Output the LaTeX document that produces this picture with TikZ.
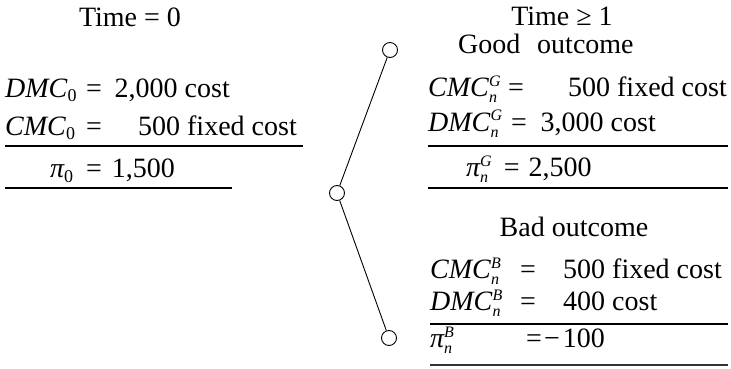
\documentclass[tikz,border=0pt]{standalone}
\usepackage{fontspec}
\setmainfont{Liberation Serif}
\newcommand{\lowsub}[1]{\raisebox{-5pt}{\fontsize{18}{18}\selectfont #1}}
\newcommand{\mysubsup}[2]{{\fontsize{16}{16}\selectfont\itshape
 \setbox0=\hbox{\raisebox{-6pt}{#1}}\setbox2=\hbox{\raisebox{10pt}{#2}}%
 \ifdim\wd0>\wd2 \rlap{\box2}\box0\else\rlap{\box0}\box2\fi}}
\newcommand{\vpi}{{\itshape π}}
\begin{document}
\begin{tikzpicture}[x=1pt,y=-1pt,
  txt/.style={inner sep=0pt,font=\fontsize{28}{34}\selectfont},
  rule/.style={line width=1.1pt},
  leaf/.style={circle,draw,line width=0.9pt,minimum size=15pt,inner sep=0pt},
  branch/.style={line width=0.9pt}]
\useasboundingbox (0,0) rectangle (731,369);
% left block
\node[txt,anchor=base] (t0) at (130,27) {Time = 0};
\node[txt,anchor=base west] (d0) at (5,97) {\textit{DMC}\lowsub{0}};
\node[txt,anchor=base west] (d0e) at (86,97) {=};
\node[txt,anchor=base east] (d0v) at (230,97) {2,000 cost};
\node[txt,anchor=base west] (c0) at (5,135) {\textit{CMC}\lowsub{0}};
\node[txt,anchor=base west] (c0e) at (86,135) {=};
\node[txt,anchor=base east] (c0v) at (297,135) {500 fixed cost};
\draw[rule] (5,146) -- (303,146);
\node[txt,anchor=base west] (p0) at (50,177) {\vpi\lowsub{0}};
\node[txt,anchor=base west] (p0e) at (86,177) {=};
\node[txt,anchor=base east] (p0v) at (175,177) {1,500};
\draw[rule] (5,188) -- (232,188);
% tree
\node[leaf] (top) at (390,50) {};
\node[leaf] (mid) at (337,193) {};
\node[leaf] (bot) at (389,338) {};
\draw[branch] (mid) -- (top);
\draw[branch] (mid) -- (bot);
% right block
\node[txt,anchor=base] (t1) at (562,26) {Time ≥ 1};
\node[txt,anchor=base west] (good) at (458,54) {Good\hspace{0.35em} outcome};
\node[txt,anchor=base west] (cg) at (428,96) {\textit{CMC}\mysubsup{n}{G}};
\node[txt,anchor=base west] (cge) at (508,96) {=};
\node[txt,anchor=base east] (cgv) at (727,96) {500 fixed cost};
\node[txt,anchor=base west] (dg) at (428,131) {\textit{DMC}\mysubsup{n}{G}};
\node[txt,anchor=base west] (dge) at (511,131) {=};
\node[txt,anchor=base east] (dgv) at (656,131) {3,000 cost};
\draw[rule] (428,146) -- (728,146);
\node[txt,anchor=base west] (pg) at (466,176) {\vpi\mysubsup{n}{G}\hspace{5pt} = \hspace{2pt}2,500};
\draw[rule] (428,188) -- (728,188);
\node[txt,anchor=base] (bad) at (574,236) {Bad outcome};
\node[txt,anchor=base west] (cb) at (430,278) {\textit{CMC}\mysubsup{n}{B}};
\node[txt,anchor=base west] (cbe) at (520,278) {=};
\node[txt,anchor=base west] (cbv) at (563,278) {500 fixed cost};
\node[txt,anchor=base west] (db) at (430,310) {\textit{DMC}\mysubsup{n}{B}};
\node[txt,anchor=base west] (dbe) at (520,310) {=};
\node[txt,anchor=base west] (dbv) at (563,310) {400 cost};
\draw[rule] (430,324) -- (728,324);
\node[txt,anchor=base west] (pb) at (430,347) {\vpi\mysubsup{n}{B}};
\node[txt,anchor=base east] (pbv) at (605,347) {=\hspace{2pt}−\hspace{3pt}100};
\draw[line width=1.6pt,black!80] (430,365) -- (728,365);
\end{tikzpicture}
\end{document}
